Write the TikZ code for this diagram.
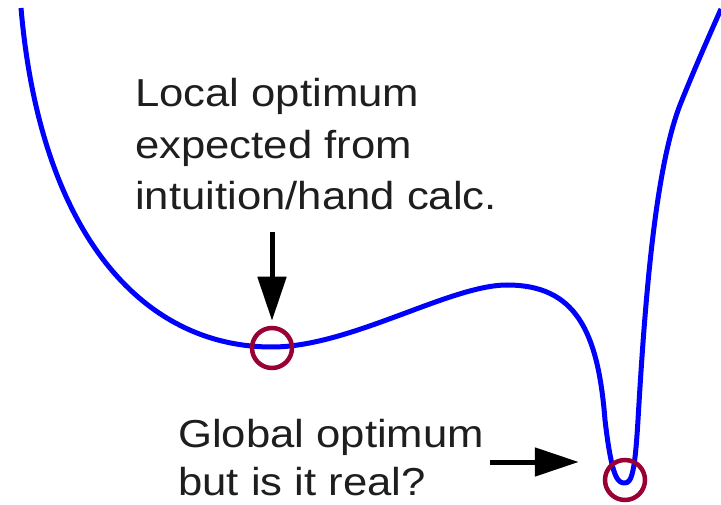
\documentclass[tikz,border=0pt]{standalone}
\usepackage{fontspec}
\setmainfont{Liberation Sans}[FakeStretch=1.12]
\usepackage{xcolor}
\usetikzlibrary{arrows.meta,positioning}
\definecolor{curveblue}{RGB}{0,0,255}
\definecolor{maroon}{RGB}{153,0,51}
\definecolor{inkgray}{RGB}{30,30,30}
\tikzset{
  curve/.style={draw=curveblue,line width=5pt,line join=round},
  marker/.style={circle,draw=maroon,line width=4.5pt,minimum size=40pt,inner sep=0pt},
  callout/.style={anchor=base west,inner sep=0pt,align=left,text=inkgray},
  pointer/.style={-{Triangle[length=44pt,width=28pt]},line width=5pt,draw=black},
}
\begin{document}
\begin{tikzpicture}[x=1pt,y=-1pt]
  \useasboundingbox (0,0) rectangle (721,505);
  % the cost landscape
  \draw[curve] (21,8) .. controls (40,230) and (140,347) .. (272,347)
    .. controls (350,347) and (450,285) .. (507,285)
    .. controls (575,285) and (598,330) .. (605,420)
    .. controls (612,480) and (618,483) .. (625,483)
    .. controls (632,483) and (635,470) .. (638,420)
    .. controls (645,300) and (655,170) .. (680,105)
    .. controls (692,75) and (705,45) .. (721,9);

  \node[marker] (localmin) at (272,348) {};
  \node[marker] (globalmin) at (625,480) {};

  \node[callout,font=\fontsize{39}{51.5}\selectfont] (localtxt) at (135,210)
    {Local optimum\\expected from\\intuition/hand calc.};
  \node[callout,font=\fontsize{39}{48}\selectfont] (globaltxt) at (178,495)
    {Global optimum\\but is it real?};

  \coordinate (ltail) at (272,232);
  \coordinate (gtail) at (490,462);
  \draw[pointer,shorten >=5pt] (ltail) -- (localmin);
  \draw[pointer,shorten >=24pt] (gtail) -- (gtail -| globalmin.west);
\end{tikzpicture}
\end{document}
